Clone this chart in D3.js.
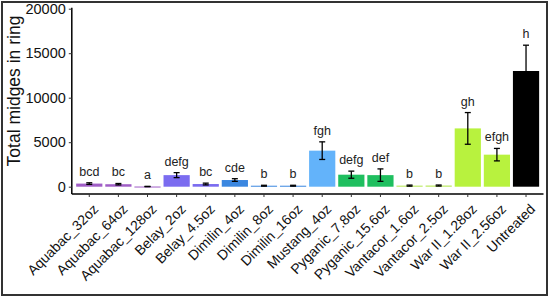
<!DOCTYPE html>
<html><head><meta charset="utf-8">
<script src="https://cdn.jsdelivr.net/npm/d3@7"></script>
<style>html,body{margin:0;padding:0;background:#fff;}svg{display:block;font-family:"Liberation Sans",Arial,sans-serif;}</style>
</head><body>
<svg id="c" width="550" height="297"></svg>
<script>
const categories = ["Aquabac_32oz","Aquabac_64oz","Aquabac_128oz","Belay_2oz","Belay_4.5oz","Dimilin_4oz","Dimilin_8oz","Dimilin_16oz","Mustang_4oz","Pyganic_7.8oz","Pyganic_15.6oz","Vantacor_1.6oz","Vantacor_2.5oz","War II_1.28oz","War II_2.56oz","Untreated"];
const means = [350, 280, 20, 1300, 300, 750, 110, 110, 4050, 1350, 1300, 120, 130, 6550, 3600, 13000];
const errors = [90, 80, 20, 280, 100, 150, 50, 50, 990, 400, 700, 60, 60, 1780, 700, 2900];
const letters = ["bcd","bc","a","defg","bc","cde","b","b","fgh","defg","def","b","b","gh","efgh","h"];
const colors = ["#a05ec6","#a05ec6","#a05ec6","#7b6cf0","#7b6cf0","#3b87e0","#3b87e0","#3b87e0","#63b3fa","#1fbf5f","#1fbf5f","#b8e85a","#b8e85a","#b8f23e","#b8f23e","#000000"];
const yTicks = [0, 5000, 10000, 15000, 20000];

const svg = d3.select("#c");
const x = d3.scaleBand().domain(categories).range([71.8, 543.5]).paddingOuter(0.15).paddingInner(0.1);
const y = d3.scaleLinear().domain([-820, 20000]).range([194, 8.7]);

svg.append("rect").attr("x",2).attr("y",2).attr("width",545).attr("height",293)
  .attr("fill","none").attr("stroke","#333").attr("stroke-width",2);

const g = svg.append("g");
g.selectAll("rect.bar").data(categories).join("rect").attr("class","bar")
  .attr("x", d => x(d))
  .attr("width", x.bandwidth())
  .attr("y", (d,i) => y(means[i]))
  .attr("height", (d,i) => Math.max(1, y(0) - y(means[i])))
  .attr("fill", (d,i) => colors[i]);

const cx = d => x(d) + x.bandwidth()/2;
const eb = g.selectAll("g.eb").data(categories).join("g").attr("class","eb")
  .attr("stroke","#000").attr("stroke-width",1.3);
eb.append("line").attr("x1",cx).attr("x2",cx)
  .attr("y1",(d,i)=>y(means[i]-errors[i])).attr("y2",(d,i)=>y(means[i]+errors[i]));
eb.append("line").attr("x1",d=>cx(d)-3).attr("x2",d=>cx(d)+3)
  .attr("y1",(d,i)=>y(means[i]-errors[i])).attr("y2",(d,i)=>y(means[i]-errors[i]));
eb.append("line").attr("x1",d=>cx(d)-3).attr("x2",d=>cx(d)+3)
  .attr("y1",(d,i)=>y(means[i]+errors[i])).attr("y2",(d,i)=>y(means[i]+errors[i]));

g.selectAll("text.lt").data(categories).join("text").attr("class","lt")
  .attr("x", cx).attr("y", (d,i) => y(means[i]+errors[i]) - 7)
  .attr("text-anchor","middle").attr("font-size",12.5).attr("fill","#222")
  .text((d,i)=>letters[i]);

const ya = svg.append("g").attr("transform","translate(71.8,0)")
  .call(d3.axisLeft(y).tickValues(yTicks).tickSize(3).tickPadding(3).tickFormat(d3.format("d")));
ya.select(".domain").attr("d", `M0,${y(20000)-1}V194`).attr("stroke","#000").attr("stroke-width",1.5);
ya.selectAll(".tick line").attr("stroke","#333");
ya.selectAll(".tick text").attr("font-size",14.5).attr("fill","#111").attr("font-family","Liberation Sans, Arial, sans-serif");

const xa = svg.append("g").attr("transform","translate(0,194)")
  .call(d3.axisBottom(x).tickSize(3).tickFormat(""));
xa.select(".domain").attr("d","M71.8,0H543.5").attr("stroke","#000").attr("stroke-width",1.5);
xa.selectAll(".tick line").attr("stroke","#333");

svg.append("g").selectAll("text").data(categories).join("text")
  .attr("transform", d => `translate(${cx(d)+10},210) rotate(-45)`)
  .attr("text-anchor","end").attr("font-size",14).attr("fill","#111")
  .text(d=>d);

svg.append("text").attr("transform","translate(20,91) rotate(-90)")
  .attr("text-anchor","middle").attr("font-size",17.5).attr("fill","#111")
  .text("Total midges in ring");
</script>
</body></html>
